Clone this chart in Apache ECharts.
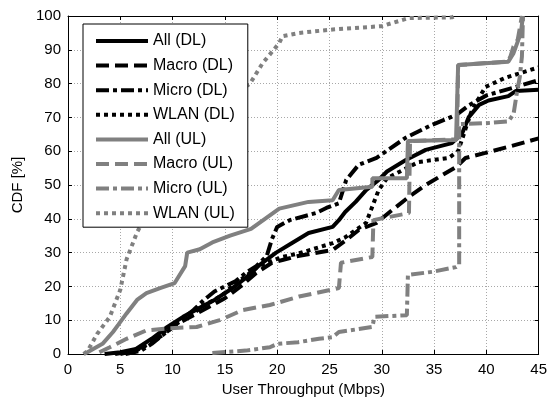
<!DOCTYPE html>
<html>
<head>
<meta charset="utf-8">
<script src="https://cdn.jsdelivr.net/npm/echarts@6/dist/echarts.min.js"></script>
<style>
  html, body { margin: 0; padding: 0; background: #fff; }
  #chart { width: 550px; height: 402px; }
</style>
</head>
<body>
<div id="chart"></div>
<script>
// CDF curves, [throughput Mbps, CDF %]
var allDL = [[3.5,0],[5,0.5],[6.5,1.5],[8,4.5],[9.5,8],[11,11],[12.5,13.5],[14,16],[15.5,19],[17,22.5],[18.3,26.3],[19.9,30],[21.5,33],[23,35.8],[25.3,37.6],[25.9,39.6],[26.5,42],[27.5,45],[28.5,48.5],[29.7,51.5],[30.5,54],[32.3,57.4],[34.2,60.4],[36.7,62.4],[37.7,65.4],[38.3,70],[39.3,73.7],[40.2,75],[42.1,76.3],[42.8,77.8],[45,78.2]];
var macroDL = [[4.5,0],[6,0.8],[7.5,2.5],[9,5.5],[10.5,9],[12,11.5],[13.5,14],[15,16.5],[16.5,20],[18,24],[19.5,27],[20.5,27.8],[22,29],[25.3,30.8],[26.6,33.7],[27.8,36.7],[29.5,38.8],[31,42.6],[32.6,46.5],[34.2,50],[35.5,52.4],[37.1,55.3],[38,58],[39.9,59.5],[42.1,61.3],[45,63.8]];
var microDL = [[5.5,0],[7,1],[8,3],[9,5.5],[10,8],[11,10.5],[12,13],[13,16],[14,18.5],[15,20],[16,21.5],[17,24],[18,26],[19,29],[19.5,34],[20,37.6],[21.2,39.6],[23.7,41.7],[24.7,43.2],[25.9,44.6],[26.6,51.5],[27.8,56],[29.5,58],[32.3,64],[34.8,67.8],[37.1,70.7],[38.3,73.5],[40,76.5],[42.8,79],[45,81]];
var wlanDL = [[5,0],[6.5,1],[8,3.5],[9,6],[10,8.5],[11,10],[12,12],[13,14.5],[14,16],[15,18],[16,21],[17,23],[18,25.5],[19,27],[20.5,28.7],[22.1,29.8],[25.3,32.8],[26.5,34.5],[28.5,38.8],[29.7,48.5],[30.5,52],[33.5,56.8],[36.4,58],[37.3,60],[38,66.5],[38.6,72],[39.9,79],[41.8,81.7],[45,84.8]];
var allUL = [[1.5,0],[1.9,0.6],[3.3,3],[4.3,6.5],[4.8,8.6],[5.6,12],[6.6,16],[7.5,18],[8.8,19.5],[10.2,21],[11.2,26],[11.4,30],[12.6,31],[13.8,33],[15.5,35],[17.5,37],[20.2,43],[23,45],[25.3,45.5],[25.9,48.5],[29.1,49.5],[29.1,52],[32.4,52],[32.5,63],[37.1,63.3],[37.3,85.5],[42.1,86.5],[42.6,89],[43.3,95],[43.5,100]];
var macroUL = [[3,0.5],[4,2],[5.6,4.5],[7.5,7],[9.7,7.6],[12.3,8],[14.5,10],[16.7,13],[19.3,14.5],[22.1,17],[25.9,19.5],[26.1,27],[29.1,28.7],[29.2,39.6],[32.6,41.7],[32.7,63],[37.2,63.5],[37.3,85.5],[42,86.5],[42.3,88],[42.6,91],[43,93],[43.4,100]];
var microUL = [[13.8,0.3],[17,1],[19.3,2],[20,3],[22,3.5],[24,4.5],[25.3,5],[25.9,6.5],[29.1,8],[29.3,11],[32.4,11.5],[32.5,23.4],[34.8,24.3],[37.1,25.7],[37.4,26.3],[37.4,68],[40,68.3],[42.1,68.8],[42.6,71],[42.9,77],[43.2,82],[43.4,88],[43.5,100]];
var wlanUL = [[1.5,0],[1.9,1],[2.8,6],[4,11],[5,19],[5.6,28],[6.6,36],[7.3,40],[8,45],[9,52],[10,58],[11.5,64],[13,69],[14.5,73],[16,77],[17.4,80],[18.6,86],[20.2,92],[20.5,94],[22.1,95],[25.3,96],[30,97],[32.6,99.4],[36.7,99.6],[37,100]];

var names = ['All (DL)','Macro (DL)','Micro (DL)','WLAN (DL)','All (UL)','Macro (UL)','Micro (UL)','WLAN (UL)'];
var curves = [allDL, macroDL, microDL, wlanDL, allUL, macroUL, microUL, wlanUL];

var BLACK = '#000', GRAY = '#808080';
var solid = 'solid', dashed = [13, 6], dashdot = [13, 4, 4, 4], dotted = [4, 4];
var looks = [
  [BLACK, solid], [BLACK, dashed], [BLACK, dashdot], [BLACK, dotted],
  [GRAY, solid], [GRAY, dashed], [GRAY, dashdot], [GRAY, dotted]
];

var font = 'Liberation Sans, Arial, sans-serif';

var series = curves.map(function (d, i) {
  return {
    name: names[i],
    type: 'line',
    data: d,
    showSymbol: false,
    symbol: 'none',
    animation: false,
    lineStyle: { color: looks[i][0], width: 4, type: looks[i][1], cap: 'butt' },
    itemStyle: { color: looks[i][0] },
    z: 2
  };
});

function baseAxis(extra) {
  var a = {
    type: 'value',
    axisLine: { show: true, onZero: false, lineStyle: { color: '#000', width: 1 } },
    axisTick: { show: true, inside: true, length: 4, lineStyle: { color: '#000' } },
    splitLine: { show: false },
    axisLabel: { show: false }
  };
  for (var k in extra) a[k] = extra[k];
  return a;
}

var chart = echarts.init(document.getElementById('chart'), null, { renderer: 'canvas' });
chart.setOption({
  backgroundColor: '#fff',
  animation: false,
  grid: { left: 68, right: 10, top: 16, bottom: 48 },
  legend: {
    data: names,
    orient: 'vertical',
    left: 83,
    top: 24,
    padding: [9, 13, 6, 11],
    itemWidth: 52,
    itemHeight: 14,
    itemGap: 8.6,
    backgroundColor: '#fff',
    borderColor: '#000',
    borderWidth: 1,
    borderRadius: 0,
    itemStyle: { color: 'transparent', borderWidth: 0, opacity: 0 },
    lineStyle: { width: 4 },
    textStyle: { fontFamily: font, fontSize: 16, color: '#000', lineHeight: 16 },
    z: 10
  },
  xAxis: [
    baseAxis({
      min: 0, max: 45, interval: 5, position: 'bottom',
      name: 'User Throughput (Mbps)', nameLocation: 'middle', nameGap: 24,
      nameTextStyle: { fontFamily: font, fontSize: 15, color: '#000' },
      axisLabel: { show: true, margin: 8, fontFamily: font, fontSize: 15, color: '#000' },
      splitLine: { show: true, lineStyle: { color: '#a8a8a8', type: [1, 2], width: 1 } }
    }),
    baseAxis({ min: 0, max: 45, interval: 5, position: 'top' })
  ],
  yAxis: [
    baseAxis({
      min: 0, max: 100, interval: 10, position: 'left',
      name: 'CDF [%]', nameLocation: 'middle', nameGap: 42,
      nameTextStyle: { fontFamily: font, fontSize: 15, color: '#000' },
      axisLabel: { show: true, margin: 7, fontFamily: font, fontSize: 15, color: '#000' },
      splitLine: { show: true, lineStyle: { color: '#a8a8a8', type: [1, 2], width: 1 } }
    }),
    baseAxis({ min: 0, max: 100, interval: 10, position: 'right' })
  ],
  series: series
});
</script>
</body>
</html>
